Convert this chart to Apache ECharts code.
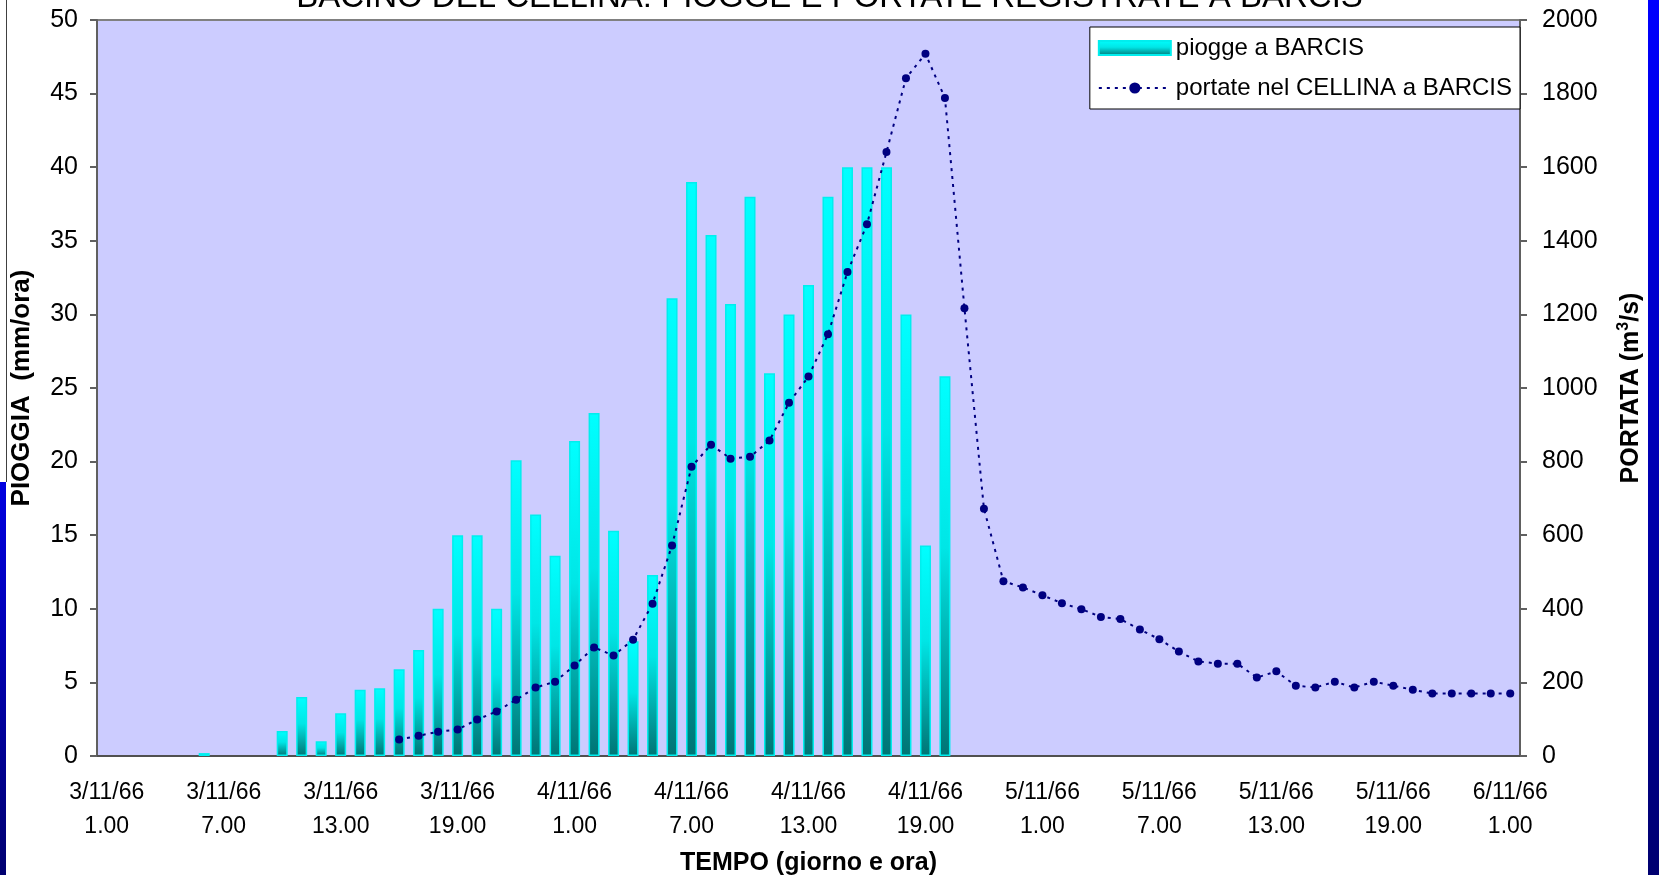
<!DOCTYPE html>
<html>
<head>
<meta charset="utf-8">
<script src="https://cdn.jsdelivr.net/npm/echarts@6/dist/echarts.min.js"></script>
<style>
  html, body { margin: 0; padding: 0; background: #ffffff; }
  #main { width: 1659px; height: 875px; }
</style>
</head>
<body>
<div id="main"></div>
<script>
// ore dal 3/11/66 1.00 al 6/11/66 1.00
var categories = [];
for (var i = 0; i < 73; i++) {
    var day = 3 + Math.floor((i + 1) / 24);
    var hour = (i + 1) % 24;
    categories.push(day + '/11/66\n' + hour + '.00');
}

// piogge a BARCIS (mm/ora)
var piogge = [null, null, null, null, null, 0.2, null, null, null,
    1.7, 4.0, 1.0, 2.9, 4.5, 4.6, 5.9, 7.2, 10.0, 15.0, 15.0, 10.0,
    20.1, 16.4, 13.6, 21.4, 23.3, 15.3, 7.8, 12.3, 31.1, 39.0, 35.4,
    30.7, 38.0, 26.0, 30.0, 32.0, 38.0, 40.0, 40.0, 40.0, 30.0, 14.3, 25.8,
    null, null, null, null, null, null, null, null, null, null,
    null, null, null, null, null, null, null, null, null, null,
    null, null, null, null, null, null, null, null, null];

// portate nel CELLINA a BARCIS (m3/s)
var portate = [null, null, null, null, null, null, null, null, null, null,
    null, null, null, null, null,
    45, 55, 66, 72, 99, 121, 153, 186, 202, 246,
    295, 273, 316, 414, 572, 786, 846, 808, 813, 857,
    960, 1031, 1146, 1315, 1445, 1641, 1842, 1908, 1788, 1217,
    672, 475, 458, 437, 415, 399, 378, 372, 344, 317,
    284, 257, 251, 251, 213, 230, 191, 186, 202, 186,
    202, 191, 180, 170, 170, 170, 170, 170];

var font = 'Liberation Sans';
var myChart = echarts.init(document.getElementById('main'));

var barColor = new echarts.graphic.LinearGradient(0, 0, 0, 1, [
    { offset: 0, color: '#00ffff' },
    { offset: 0.45, color: '#00e6e6' },
    { offset: 1, color: '#007474' }
]);

var option = {
    backgroundColor: '#ffffff',
    animation: false,
    title: {
        text: 'BACINO DEL CELLINA: PIOGGE E PORTATE REGISTRATE A BARCIS',
        left: 'center',
        top: -19,
        padding: 0,
        textStyle: { fontFamily: font, fontSize: 33, fontWeight: 'normal', color: '#000' }
    },
    legend: {
        orient: 'vertical',
        right: 139,
        top: 27,
        backgroundColor: '#ffffff',
        borderColor: '#000000',
        borderWidth: 1,
        padding: [9, 8, 9, 8],
        itemGap: 16,
        itemWidth: 72,
        itemHeight: 14,
        textStyle: { fontFamily: font, fontSize: 24, color: '#000' },
        data: [
            { name: 'piogge a BARCIS', icon: 'rect' },
            { name: 'portate nel CELLINA a BARCIS' }
        ]
    },
    grid: {
        left: 97,
        right: 139,
        top: 20,
        bottom: 119,
        outerBoundsMode: 'none',
        show: true,
        backgroundColor: '#ccccff',
        borderColor: '#808080',
        borderWidth: 2
    },
    xAxis: {
        type: 'category',
        data: categories,
        boundaryGap: true,
        name: 'TEMPO (giorno e ora)',
        nameLocation: 'middle',
        nameGap: 95,
        nameTextStyle: { fontFamily: font, fontSize: 25, fontWeight: 'bold', color: '#000' },
        axisLine: { lineStyle: { color: '#505050', width: 2 } },
        axisTick: { interval: 2, length: 7, lineStyle: { color: '#505050', width: 2 } },
        axisLabel: {
            interval: 5,
            margin: 20,
            fontFamily: font,
            fontSize: 23,
            lineHeight: 34,
            color: '#000'
        },
        splitLine: { show: false }
    },
    yAxis: [{
        type: 'value',
        min: 0,
        max: 50,
        interval: 5,
        name: 'PIOGGIA  (mm/ora)',
        nameLocation: 'middle',
        nameGap: 62,
        nameTextStyle: { fontFamily: font, fontSize: 26, fontWeight: 'bold', color: '#000' },
        axisLine: { show: true, lineStyle: { color: '#606060', width: 2 } },
        axisTick: { show: true, length: 7, lineStyle: { color: '#606060', width: 2 } },
        axisLabel: { margin: 19, fontFamily: font, fontSize: 25, color: '#000' },
        splitLine: { show: false }
    }, {
        type: 'value',
        min: 0,
        max: 2000,
        interval: 200,
        name: 'PORTATA (m{sup|3}/s)',
        nameLocation: 'middle',
        nameGap: 96,
        nameTextStyle: {
            fontFamily: font, fontSize: 25, fontWeight: 'bold', color: '#000', lineHeight: 30,
            rich: { sup: { fontFamily: font, fontSize: 16, fontWeight: 'bold', lineHeight: 30, verticalAlign: 'top', color: '#000' } }
        },
        axisLine: { show: true, lineStyle: { color: '#606060', width: 2 } },
        axisTick: { show: true, length: 7, lineStyle: { color: '#606060', width: 2 } },
        axisLabel: {
            margin: 22, fontFamily: font, fontSize: 25, color: '#000',
            formatter: function (v) { return String(v); }
        },
        splitLine: { show: false }
    }],
    series: [{
        name: 'piogge a BARCIS',
        type: 'bar',
        yAxisIndex: 0,
        barWidth: 11,
        itemStyle: { color: barColor, borderColor: '#00eeee', borderWidth: 1.5 },
        data: piogge
    }, {
        name: 'portate nel CELLINA a BARCIS',
        type: 'line',
        yAxisIndex: 1,
        connectNulls: false,
        symbol: 'circle',
        symbolSize: 8,
        itemStyle: { color: '#000080' },
        lineStyle: { color: '#000080', width: 2, type: [3, 5] },
        data: portate
    }],
    graphic: [{
        type: 'rect',
        shape: { x: 1648, y: 0, width: 11, height: 875 },
        style: {
            fill: new echarts.graphic.LinearGradient(0, 0, 0, 1, [
                { offset: 0, color: '#0000ff' },
                { offset: 1, color: '#000070' }
            ])
        }
    }, {
        type: 'rect',
        shape: { x: 0, y: 482, width: 6, height: 393 },
        style: {
            fill: new echarts.graphic.LinearGradient(0, 0, 0, 1, [
                { offset: 0, color: '#0000e0' },
                { offset: 1, color: '#000070' }
            ])
        }
    }, {
        type: 'line',
        shape: { x1: 6.5, y1: 0, x2: 6.5, y2: 482 },
        style: { stroke: '#404040', lineWidth: 1 }
    }]
};

myChart.setOption(option);
</script>
</body>
</html>
